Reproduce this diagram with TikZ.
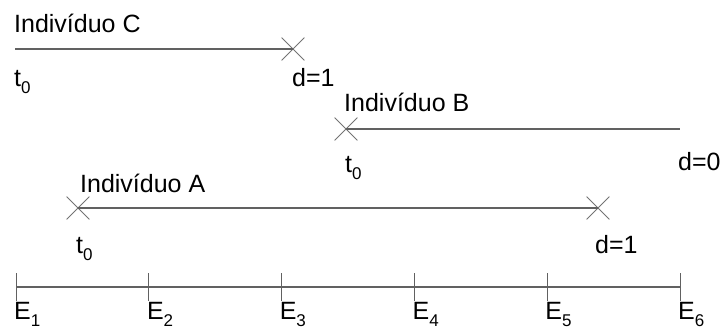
\documentclass[tikz,border=0pt]{standalone}
\usepackage{fontspec}
\setmainfont{Liberation Sans}
\usetikzlibrary{shapes.misc}
\newcommand{\lowsub}[1]{\raisebox{-7pt}{\fontsize{17}{17}\selectfont #1}}
\tikzset{
  tline/.style={draw=black!62, line width=1.3pt},
  xmark/.style={cross out, draw=black!55, line width=0.8pt, minimum size=22pt, inner sep=0pt},
  lbl/.style={anchor=base west, inner sep=0pt, font=\fontsize{25}{29}\selectfont, text=black},
  tickmark/.style={draw=black!62, line width=1pt}
}
\begin{document}
\begin{tikzpicture}[x=1pt,y=-1pt]
\useasboundingbox (0,0) rectangle (724,329);
% Individuo C
\coordinate (cS) at (15,49);
\node[xmark] (cX) at (293,49) {};
\draw[tline] (cS) -- (cX.center);
\node[lbl] (cName) at (14,33) {Indivíduo C};
\node[lbl] (cT) at (14,87) {t\lowsub{0}};
\node[lbl] (cD) at (292,87) {d=1};
% Individuo B
\node[xmark] (bX) at (346,129) {};
\coordinate (bE) at (680,129);
\draw[tline] (bX.center) -- (bE);
\node[lbl] (bName) at (344,112) {Indivíduo B};
\node[lbl] (bT) at (345,172) {t\lowsub{0}};
\node[lbl] (bD) at (678,171) {d=0};
% Individuo A
\node[xmark] (aX1) at (78,208) {};
\node[xmark] (aX2) at (598,208) {};
\draw[tline] (aX1.center) -- (aX2.center);
\node[lbl] (aName) at (80,192) {Indivíduo A};
\node[lbl] (aT) at (76,253) {t\lowsub{0}};
\node[lbl] (aD) at (595,253) {d=1};
% timeline
\foreach \i/\x in {1/16,2/148.8,3/281.6,4/414.4,5/547.2,6/680}{
  \coordinate (e\i) at (\x,287);
  \draw[tickmark] (\x,273) -- (\x,301);
  \node[lbl] (E\i) at (\x-2,319) {E\lowsub{\i}};
}
\draw[tline] (e1) -- (e6);
\end{tikzpicture}
\end{document}
